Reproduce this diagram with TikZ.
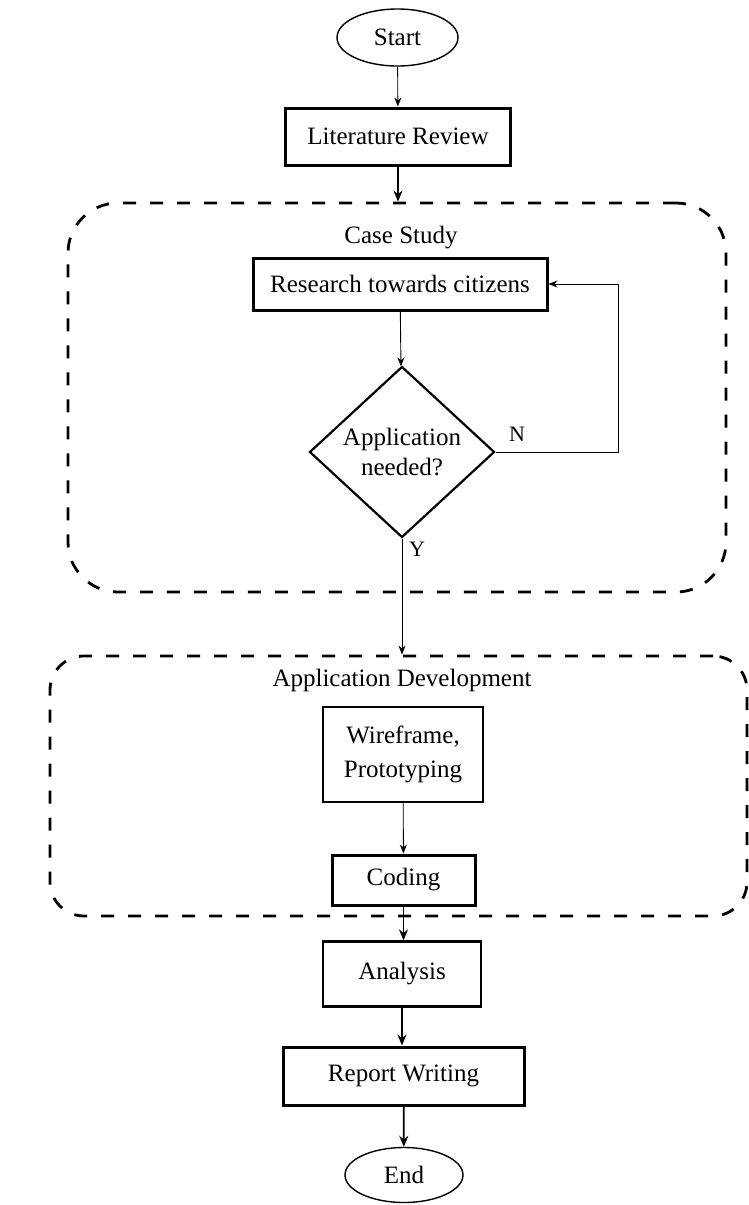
\documentclass[tikz,border=0pt]{standalone}
\usepackage{fontspec}
\setmainfont{Liberation Serif}
\usetikzlibrary{shapes.geometric,arrows.meta}
\begin{document}
\begin{tikzpicture}[x=1pt,y=-1pt,
  font=\fontsize{25}{30}\selectfont,
  stepbox/.style={draw, rectangle, line width=3pt, inner sep=0pt, align=center},
  termnode/.style={draw, ellipse, line width=1.4pt, inner sep=0pt},
  decision/.style={draw, diamond, line width=2.2pt, inner sep=0pt, aspect=1.08, align=center},
  groupbox/.style={draw, rectangle, line width=2.8pt, dash pattern=on 13pt off 14pt, inner sep=0pt},
  thinarrow/.style={-{Stealth[length=9pt,width=7pt]}, line width=0.9pt},
  thickarrow/.style={-{Stealth[length=11pt,width=9pt]}, line width=1.7pt},
  lbl/.style={inner sep=0pt}
]
\useasboundingbox (0,0) rectangle (748,1205);

% group boxes
\node[groupbox, rounded corners=50pt, minimum width=658pt, minimum height=389pt] (cs) at (397,397.5) {};
\node[groupbox, rounded corners=34pt, minimum width=697pt, minimum height=260pt] (ad) at (398.5,786) {};
\node[lbl] (cstitle) at (401,238) {Case Study};
\node[lbl] (adtitle) at (402,680) {Application Development};

% steps
\node[termnode, minimum width=121pt, minimum height=57pt] (start) at (397.5,37.5) {Start};
\node[stepbox, minimum width=225pt, minimum height=57pt] (lr) at (398,136.5) {Literature Review};
\node[stepbox, minimum width=294pt, minimum height=52pt] (rtc) at (400,284) {Research towards citizens};
\node[decision, minimum width=185pt, minimum height=171pt] (dia) at (402,452) {Application\\needed?};
\node[stepbox, line width=2.5pt, minimum width=160pt, minimum height=95pt, font=\fontsize{25}{34}\selectfont] (wf) at (403,754.5) {Wireframe,\\Prototyping};
\node[stepbox, minimum width=143pt, minimum height=50pt] (cod) at (403.5,880) {Coding};
\node[stepbox, line width=2.3pt, minimum width=158pt, minimum height=65pt] (ana) at (402,974) {Analysis};
\node[stepbox, minimum width=241pt, minimum height=58pt] (rw) at (403.5,1076) {Report Writing};
\node[termnode, minimum width=118pt, minimum height=55pt] (end) at (404,1175) {End};

% labels
\node[lbl, font=\fontsize{22}{26}\selectfont] (nlab) at (517,434) {N};
\node[lbl, font=\fontsize{22}{26}\selectfont] (ylab) at (417,549) {Y};

% connectors
\coordinate (nloop) at (618,452);
\draw[thinarrow] (start) -- (lr);
\draw[thickarrow] (lr.south) -- (lr.south |- cs.north);
\draw[thinarrow] (rtc) -- (dia);
\draw[thinarrow] (dia.east) -- (nloop) |- (rtc.east);
\draw[thinarrow] (dia.south) -- (dia.south |- ad.north);
\draw[thinarrow] (wf) -- (cod);
\draw[thickarrow] (cod.south) -- (cod.south |- ana.north);
\draw[thickarrow] (ana.south) -- (ana.south |- rw.north);
\draw[thickarrow] (rw) -- (end);
\end{tikzpicture}
\end{document}
